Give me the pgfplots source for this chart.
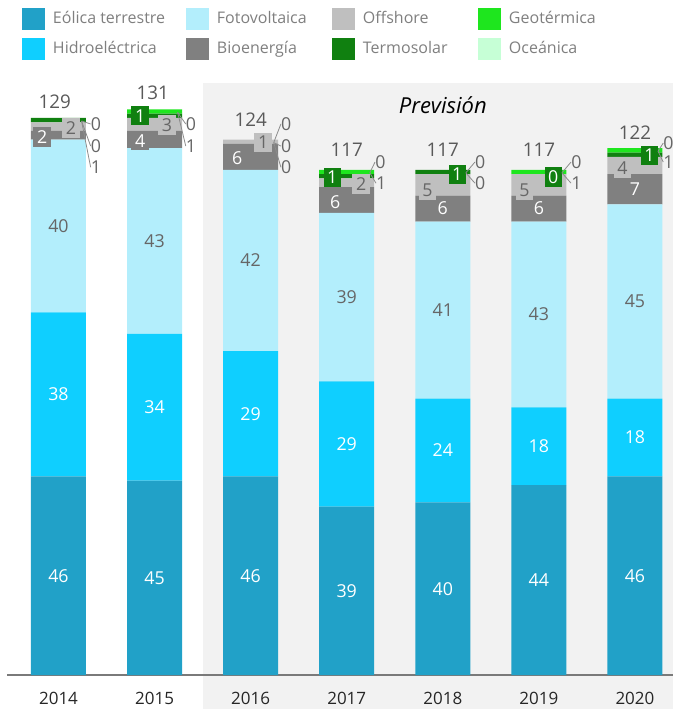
\documentclass[border=0pt]{standalone}
\usepackage{fontspec}
\setmainfont{Open Sans}
\usepackage{pgfplots}
\pgfplotsset{compat=1.18}
\definecolor{eol}{HTML}{21A1C8}
\definecolor{hid}{HTML}{0FCFFF}
\definecolor{fot}{HTML}{B3EEFC}
\definecolor{bio}{HTML}{808080}
\definecolor{off}{HTML}{BFBFBF}
\definecolor{ter}{HTML}{108010}
\definecolor{geo}{HTML}{1EE61E}
\definecolor{oce}{HTML}{C6FFD6}
\definecolor{prev}{HTML}{F2F2F2}
\definecolor{lblg}{HTML}{666666}
\definecolor{totg}{HTML}{595959}
\definecolor{legt}{HTML}{7F7F7F}
\definecolor{axl}{HTML}{7A7A7A}
\definecolor{tickc}{HTML}{262626}
\definecolor{lead}{HTML}{8C8C8C}
\pgfplotsset{sqleg/.style={legend image code/.code={\fill[##1] (0pt,-5.5pt) rectangle (11.5pt,5.5pt);}}}
\newcommand{\lf}{\fontsize{8.9}{10}\selectfont}
\newcommand{\W}[3]{\node[text=white,font=\lf,inner sep=0pt] at (#1,#2) {#3};}
\newcommand{\G}[3]{\node[text=lblg,font=\lf,inner sep=0pt] at (#1,#2) {#3};}
\newcommand{\T}[3]{\node[text=totg,font=\fontsize{9.4}{11}\selectfont,inner sep=0pt] at (#1,#2) {#3};}
\newcommand{\TB}[3]{\node[fill=ter,text=white,font=\lf,inner xsep=1.8pt,inner ysep=1.6pt] at (#1,#2) {#3};}
\newcommand{\OB}[3]{\node[fill=off,text=lblg,font=\lf,inner xsep=1.8pt,inner ysep=1.6pt] at (#1,#2) {#3};}
\newcommand{\BB}[3]{\node[fill=bio,text=white,font=\lf,inner xsep=1.8pt,inner ysep=1.6pt] at (#1,#2) {#3};}
\newcommand{\R}[5]{\draw[lead,line width=0.4pt] (#4,#5) -- ([xshift=-0.5pt]#1-0.045,#2);
  \node[text=lblg,font=\lf,inner sep=0pt] at (#1,#2) {#3};}
\begin{document}
\begin{tikzpicture}
\path[use as bounding box] (0,0) rectangle (336.5pt,-354.5pt);
\fill[prev] (101.5pt,-41.5pt) rectangle (336.5pt,-354.5pt);
\begin{axis}[
  at={(3.5pt,-337.5pt)}, anchor=south west,
  scale only axis, width=333pt, height=296pt,
  xmin=-0.536, xmax=6.396, ymin=0, ymax=137.1,
  ybar stacked, bar width=27.5pt,
  axis y line=none, axis x line*=bottom,
  x axis line style={-, draw=axl, line width=1pt},
  xtick={0,1,2,3,4,5,6},
  xticklabels={2014,2015,2016,2017,2018,2019,2020},
  major tick length=0pt,
  xticklabel style={font=\fontsize{8.5}{10}\selectfont, text=tickc, yshift=-5pt},
  /pgf/number format/assume math mode=true,
  clip=false,
  legend columns=2, transpose legend,
  legend style={at={(0.0225,1.1267)}, anchor=north west, draw=none, fill=none,
    inner sep=0pt, outer sep=0pt, row sep=4pt, column sep=0pt,
    /tikz/every odd column/.append style={column sep=4pt},
    nodes={inner sep=0pt, text=legt, font=\fontsize{8}{9.6}\selectfont},
    cells={anchor=west}},
]
\addplot[fill=eol, draw=none, sqleg] coordinates {(0,46)(1,45)(2,46)(3,39)(4,40)(5,44)(6,46)};
\addplot[fill=hid, draw=none, sqleg] coordinates {(0,38)(1,34)(2,29)(3,29)(4,24)(5,18)(6,18)};
\addplot[fill=fot, draw=none, sqleg] coordinates {(0,40)(1,43)(2,42)(3,39)(4,41)(5,43)(6,45)};
\addplot[fill=bio, draw=none, sqleg] coordinates {(0,2)(1,4)(2,6)(3,6)(4,6)(5,6)(6,7)};
\addplot[fill=off, draw=none, sqleg] coordinates {(0,2)(1,3)(2,1)(3,2)(4,5)(5,5)(6,4)};
\addplot[fill=ter, draw=none, sqleg] coordinates {(0,1)(1,1)(2,0)(3,1)(4,1)(5,0)(6,1)};
\addplot[fill=geo, draw=none, sqleg] coordinates {(0,0)(1,1)(2,0)(3,1)(4,0)(5,1)(6,1)};
\addplot[fill=oce, draw=none, sqleg] coordinates {(0,0)(1,0)(2,0)(3,0)(4,0)(5,0)(6,0)};
\legend{\makebox[66.5pt][l]{Eólica terrestre},\makebox[66.5pt][l]{Hidroeléctrica},
  \makebox[57.5pt][l]{Fotovoltaica},\makebox[57.5pt][l]{Bioenergía},
  \makebox[57.5pt][l]{Offshore},\makebox[57.5pt][l]{Termosolar},
  Geotérmica,Oceánica}
\end{axis}
% labels, in the same coordinates as the axis (x unit 333pt/6.932, y unit 296pt/137.1)
\begin{scope}[x=48.0381pt, y=2.15901pt, shift={(29.248pt,-337.5pt)}]
% Eolica
\W{0}{23}{46}\W{1}{22.5}{45}\W{2}{23}{46}\W{3}{19.5}{39}\W{4}{20}{40}\W{5}{22}{44}\W{6}{23}{46}
% Hidro
\W{0}{65}{38}\W{1}{62}{34}\W{2}{60.5}{29}\W{3}{53.5}{29}\W{4}{52}{24}\W{5}{53}{18}\W{6}{55}{18}
% FV
\G{0}{104}{40}\G{1}{100.5}{43}\G{2}{96}{42}\G{3}{87.5}{39}\G{4}{84.5}{41}\G{5}{83.5}{43}\G{6}{86.5}{45}
% Bio
\BB{-0.17}{124.6}{2}\BB{0.85}{123.7}{4}\BB{1.86}{119.7}{6}\BB{2.88}{109.5}{6}\BB{4.0}{108.2}{6}\BB{5.0}{108.2}{6}\BB{6.0}{112.6}{7}
% Offshore
\OB{0.13}{126.7}{2}\OB{1.13}{127.4}{3}\OB{2.13}{123.4}{1}\OB{3.15}{113.7}{2}\OB{3.84}{112.3}{5}\OB{4.85}{112.3}{5}\OB{5.87}{117.4}{4}
% Termosolar
\TB{0.85}{129.5}{1}\TB{2.85}{115.3}{1}\TB{4.15}{116.0}{1}\TB{5.15}{115.3}{0}\TB{6.15}{120.4}{1}
% totals
\T{-0.04}{132.7}{129}\T{0.98}{134.8}{131}\T{2.0}{128.5}{124}\T{3}{121.6}{117}\T{4}{121.6}{117}\T{5}{121.6}{117}\T{6}{125.5}{122}
% right labels
\R{0.39}{127.6}{0}{0.24}{128.3}\R{0.39}{122.5}{0}{0.24}{128.3}\R{0.39}{117.6}{1}{0.24}{128.3}
\R{1.38}{127.6}{0}{1.24}{130.3}\R{1.38}{122.5}{1}{1.24}{130.3}
\R{2.37}{127.6}{0}{2.24}{123.3}\R{2.37}{122.5}{0}{2.24}{123.3}\R{2.37}{117.6}{0}{2.24}{123.3}
\R{3.35}{118.8}{0}{3.24}{116.3}\R{3.36}{113.9}{1}{3.24}{116.3}
\R{4.39}{118.8}{0}{4.24}{116.3}\R{4.39}{113.9}{0}{4.24}{116.3}
\R{5.39}{118.8}{0}{5.24}{116.3}\R{5.39}{113.9}{1}{5.24}{116.3}
\R{6.35}{123.2}{0}{6.24}{121.3}\R{6.35}{118.8}{1}{6.24}{121.3}
\node[font=\itshape\fontsize{11}{13}\selectfont, text=black] at (4.0,132.0) {Previsión};
\end{scope}
\end{tikzpicture}
\end{document}
